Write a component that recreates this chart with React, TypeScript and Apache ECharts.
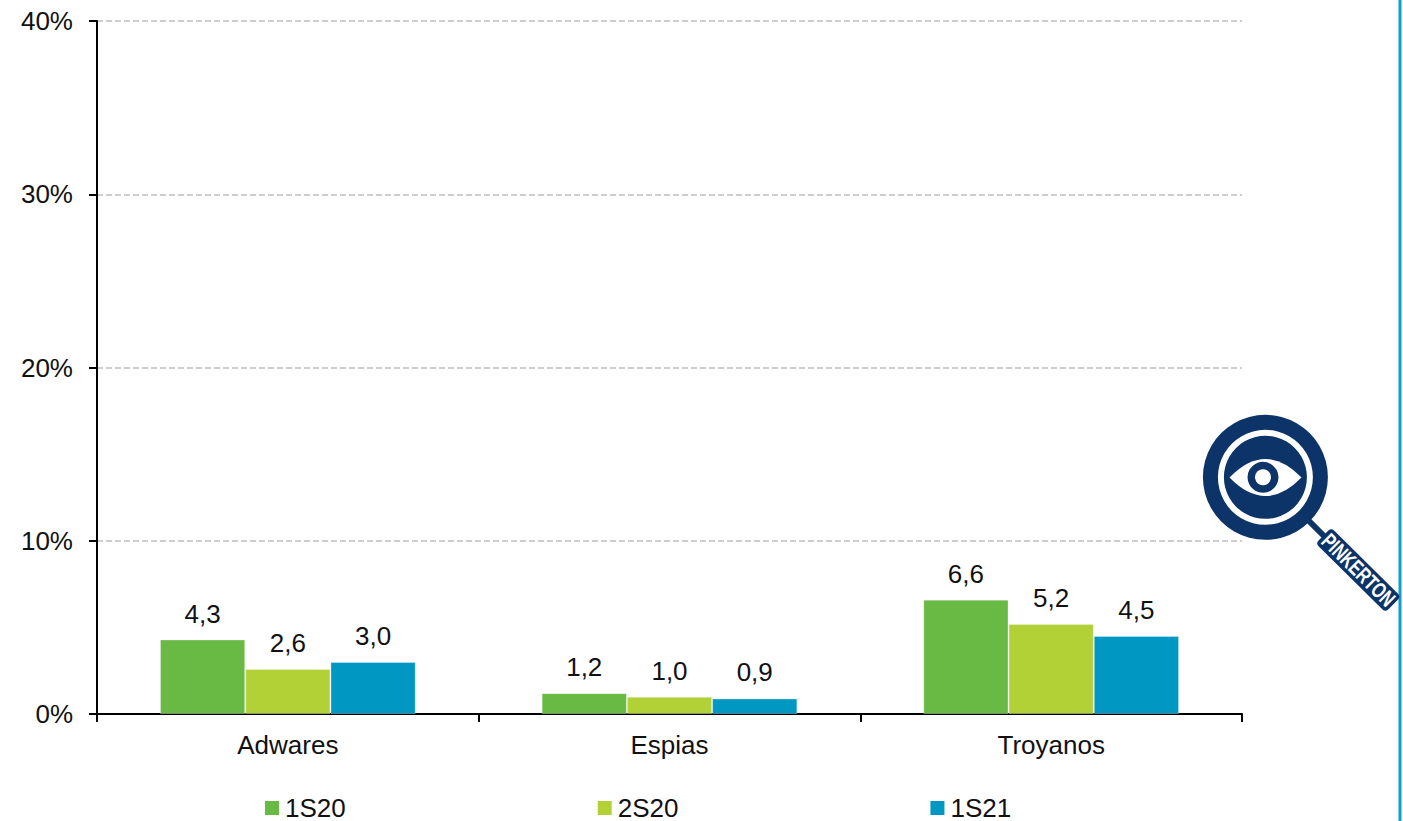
import React, { useEffect, useRef } from "react";
import * as echarts from "echarts";

const categories = ["Adwares", "Espias", "Troyanos"];
const s1S20 = [4.3, 1.2, 6.6];
const s2S20 = [2.6, 1.0, 5.2];
const s1S21 = [3.0, 0.9, 4.5];
const seriesNames = ["1S20", "2S20", "1S21"];
const seriesColors = ["#69b945", "#b1d136", "#0098c3"];

const FONT = '"Liberation Sans", Arial, sans-serif';
const NAVY = "#0c3468";

echarts.graphic.registerShape(
  "logoEye",
  echarts.graphic.extendPath("M-36 0 Q0 -37 36 0 Q0 37 -36 0 Z", {}) as any
);

export default function App() {
  const ref = useRef<HTMLDivElement>(null);
  useEffect(() => {
    document.body.style.margin = "0";
    const chart = echarts.init(ref.current!, undefined, { renderer: "svg" });
    const bar = (name: string, data: number[], color: string) => ({
      name,
      type: "bar",
      data,
      barGap: 0,
      barCategoryGap: "33%",
      itemStyle: { color, borderColor: "rgba(255,255,255,0.3)", borderWidth: 1 },
      label: {
        show: true,
        position: "top",
        distance: 13,
        fontFamily: FONT,
        fontSize: 26,
        color: "#111",
        formatter: (p: any) => Number(p.value).toFixed(1).replace(".", ","),
      },
    });
    chart.setOption({
      animation: false,
      backgroundColor: "#fff",
      grid: { left: 97, right: 161, top: 21, bottom: 107, containLabel: false },
      legend: {
        left: 260,
        top: 790,
        padding: [5, 5, 0, 5],
        itemWidth: 14,
        itemHeight: 14,
        itemGap: 252,
        icon: "rect",
        data: seriesNames,
        textStyle: { fontFamily: FONT, fontSize: 26, lineHeight: 20, color: "#111", padding: [0, 0, 0, 1] },
        itemStyle: { borderWidth: 0 },
      },
      xAxis: {
        type: "category",
        data: categories,
        boundaryGap: true,
        axisLine: { lineStyle: { color: "#000", width: 2 } },
        axisTick: { show: true, alignWithLabel: false, length: 8, lineStyle: { color: "#000", width: 2 } },
        axisLabel: { fontFamily: FONT, fontSize: 26, color: "#111", margin: 18 },
      },
      yAxis: {
        type: "value",
        min: 0,
        max: 40,
        interval: 10,
        axisLine: { show: true, lineStyle: { color: "#000", width: 2 } },
        axisTick: { show: true, length: 8, lineStyle: { color: "#000", width: 2 } },
        axisLabel: { fontFamily: FONT, fontSize: 26, color: "#111", margin: 24, padding: [2, 0, 0, 0], formatter: "{value}%" },
        splitLine: { show: true, lineStyle: { color: "#bfbfbf", type: "dashed", width: 1.5 } },
      },
      series: [
        bar(seriesNames[0], s1S20, seriesColors[0]),
        bar(seriesNames[1], s2S20, seriesColors[1]),
        bar(seriesNames[2], s1S21, seriesColors[2]),
      ],
      graphic: [
        { type: "line", shape: { x1: 1400, y1: 0, x2: 1400, y2: 821 }, style: { stroke: "#0f9fd0", lineWidth: 3 } },
        { type: "line", shape: { x1: 1308, y1: 520, x2: 1325, y2: 537 }, style: { stroke: NAVY, lineWidth: 6 } },
        { type: "circle", shape: { cx: 1265.4, cy: 477.3, r: 62.5 }, style: { fill: NAVY } },
        { type: "ring", shape: { cx: 1265.4, cy: 477.3, r: 47.5, r0: 41.5 }, style: { fill: "#fff" } },
        { type: "logoEye", x: 1265.5, y: 477.5, style: { fill: "#fff" } },
        { type: "circle", shape: { cx: 1263, cy: 477.3, r: 15.5 }, style: { fill: NAVY } },
        { type: "circle", shape: { cx: 1263, cy: 477.3, r: 8 }, style: { fill: "#fff" } },
        {
          type: "group",
          x: 1358.3,
          y: 570,
          rotation: -0.78,
          children: [
            { type: "rect", shape: { x: -49, y: -11, width: 98, height: 22, r: 4 }, style: { fill: NAVY } },
            {
              type: "text",
              x: 0,
              y: 0,
              scaleX: 0.72,
              style: {
                text: "PINKERTON",
                fontFamily: FONT,
                fontWeight: "bold",
                fontSize: 22,
                fill: "#fff",
                align: "center",
                verticalAlign: "middle",
              },
            },
          ],
        },
      ],
    });
    return () => chart.dispose();
  }, []);
  return <div ref={ref} style={{ width: 1403, height: 821 }} />;
}
